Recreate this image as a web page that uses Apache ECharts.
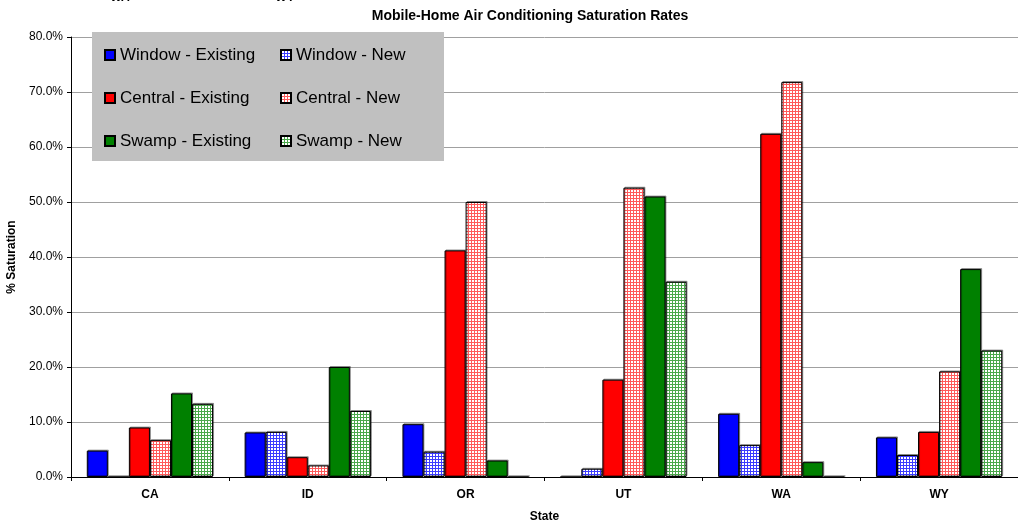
<!DOCTYPE html>
<html>
<head>
<meta charset="utf-8">
<script src="https://cdn.jsdelivr.net/npm/echarts@6/dist/echarts.min.js"></script>
<style>
  html, body { margin: 0; padding: 0; background: #fff; }
  #chart { width: 1018px; height: 524px; }
</style>
</head>
<body>
<div id="chart"></div>
<script>
// categories + series values (% saturation)
const states = ['CA', 'ID', 'OR', 'UT', 'WA', 'WY']
const windowExisting = [4.8, 8.1, 9.6, 0, 11.5, 7.2]
const windowNew = [0, 8.2, 4.6, 1.5, 5.8, 4.0]
const centralExisting = [9.0, 3.6, 41.2, 17.7, 62.4, 8.2]
const centralNew = [6.7, 2.1, 50.0, 52.6, 71.8, 19.2]
const swampExisting = [15.2, 20.0, 3.0, 51.0, 2.7, 37.8]
const swampNew = [13.3, 12.0, 0, 35.5, 0, 23.0]
const yTicks = [0, 10, 20, 30, 40, 50, 60, 70, 80]

const font = 'Liberation Sans, Arial, sans-serif'

// small grid pattern used for the "New" bars
function gridPattern(line) {
  const c = document.createElement('canvas')
  c.width = 3
  c.height = 3
  const ctx = c.getContext('2d')
  ctx.fillStyle = '#fff'
  ctx.fillRect(0, 0, 3, 3)
  ctx.fillStyle = line
  ctx.fillRect(0, 0, 3, 1)
  ctx.fillRect(0, 0, 1, 3)
  return { image: c, repeat: 'repeat' }
}

function bar(name, data, color) {
  return {
    name,
    type: 'bar',
    data,
    barGap: '0%',
    barCategoryGap: '20%',
    itemStyle: {
      color,
      borderColor: '#000',
      borderWidth: 1,
      shadowColor: 'rgba(0,0,0,0.35)',
      shadowOffsetX: 1,
      shadowOffsetY: -1,
    },
  }
}

const chart = echarts.init(document.getElementById('chart'))
chart.setOption({
  animation: false,
  textStyle: { fontFamily: font },
  title: {
    text: 'Mobile-Home Air Conditioning Saturation Rates',
    left: 525,
    textAlign: 'center',
    top: 4,
    textStyle: { fontSize: 14, fontWeight: 'bold', color: '#000', fontFamily: font },
  },
  graphic: [
    { type: 'rect', z: 3, shape: { x: 92, y: 32, width: 352, height: 129 }, style: { fill: '#c0c0c0' } },
    { type: 'text', style: { text: 'WA', x: 120, y: 4, align: 'center', verticalAlign: 'bottom', font: 'bold 12px ' + font, fill: '#000' } },
    { type: 'text', style: { text: 'WY', x: 285, y: 4, align: 'center', verticalAlign: 'bottom', font: 'bold 12px ' + font, fill: '#000' } },
  ],
  legend: [
    {
      data: ['Window - Existing', 'Central - Existing', 'Swamp - Existing'],
      orient: 'vertical',
      left: 104,
      top: 45,
      itemWidth: 10,
      itemHeight: 10,
      itemGap: 23,
      padding: 0,
      icon: 'rect',
      textStyle: { fontSize: 17, lineHeight: 20, color: '#000', fontFamily: font },
    },
    {
      data: ['Window - New', 'Central - New', 'Swamp - New'],
      orient: 'vertical',
      left: 280,
      top: 45,
      itemWidth: 10,
      itemHeight: 10,
      itemGap: 23,
      padding: 0,
      icon: 'rect',
      textStyle: { fontSize: 17, lineHeight: 20, color: '#000', fontFamily: font },
    },
  ],
  grid: { left: 71, right: 0, top: 37, bottom: 47, outerBoundsMode: 'none' },
  xAxis: {
    type: 'category',
    data: states,
    name: 'State',
    nameLocation: 'middle',
    nameGap: 34,
    nameTextStyle: { fontSize: 12, fontWeight: 'bold', color: '#000' },
    axisLine: { lineStyle: { color: '#000', width: 1 } },
    axisTick: { show: true, length: 4, lineStyle: { color: '#000' } },
    axisLabel: { fontSize: 12, fontWeight: 'bold', color: '#000', margin: 12 },
  },
  yAxis: {
    type: 'value',
    min: yTicks[0],
    max: yTicks[yTicks.length - 1],
    interval: 10,
    name: '% Saturation',
    nameLocation: 'middle',
    nameGap: 48,
    nameTextStyle: { fontSize: 12, fontWeight: 'bold', color: '#000' },
    axisLine: { show: true, lineStyle: { color: '#000', width: 1 } },
    axisTick: { show: true, length: 4, lineStyle: { color: '#000' } },
    axisLabel: { fontSize: 12, color: '#000', margin: 8, formatter: v => v.toFixed(1) + '%' },
    splitLine: { lineStyle: { color: '#a0a0a0', width: 1 } },
  },
  series: [
    bar('Window - Existing', windowExisting, '#0000ff'),
    bar('Window - New', windowNew, gridPattern('#3c3cff')),
    bar('Central - Existing', centralExisting, '#ff0000'),
    bar('Central - New', centralNew, gridPattern('#ff5a5a')),
    bar('Swamp - Existing', swampExisting, '#008000'),
    bar('Swamp - New', swampNew, gridPattern('#4aa84a')),
  ],
})
</script>
</body>
</html>
